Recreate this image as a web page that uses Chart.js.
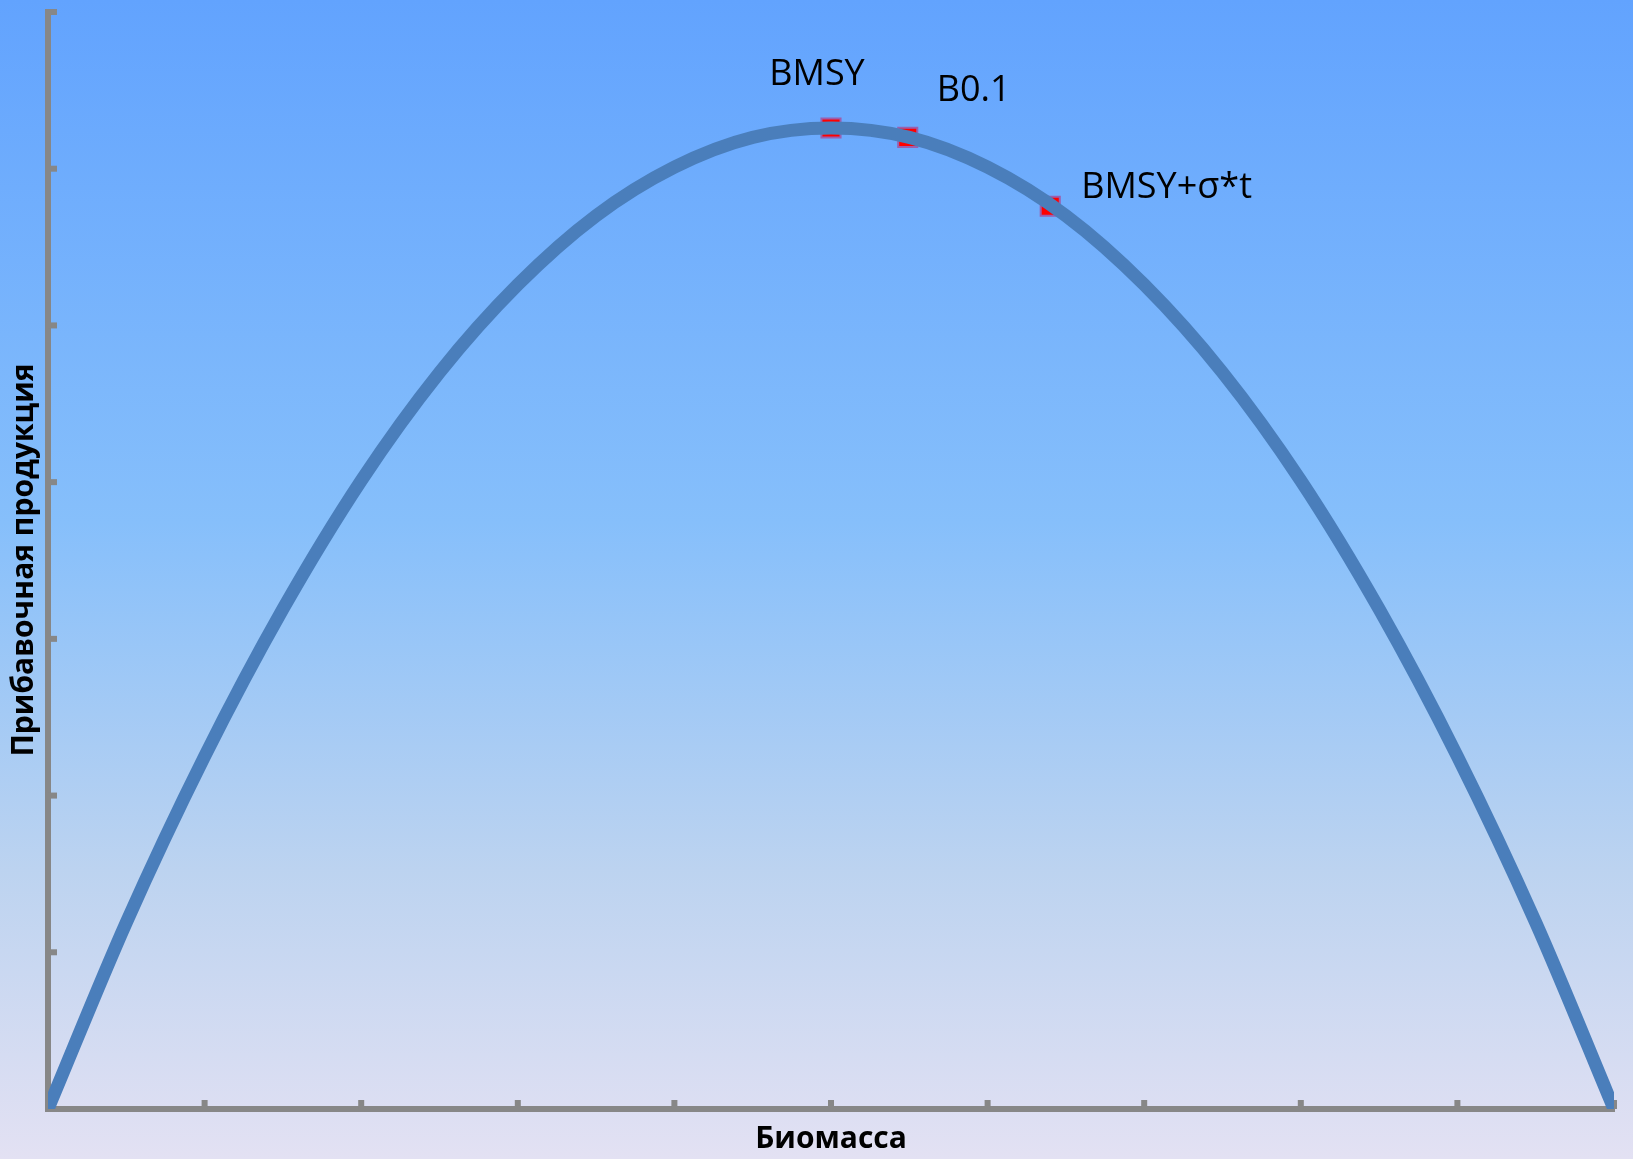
<!DOCTYPE html>
<html lang="ru">
<head>
<meta charset="utf-8">
<title>Прибавочная продукция</title>
<script src="https://cdn.jsdelivr.net/npm/chart.js@4/dist/chart.umd.min.js"></script>
<style>
  html, body { margin: 0; padding: 0; background: #e2e1f3; }
  #wrap { width: 1633px; height: 1159px; position: relative; }
</style>
</head>
<body>
<div id="wrap"><canvas id="yield-chart"></canvas></div>
<script>
// surplus production curve, read at every half unit of biomass
const biomass = [0, 0.5, 1, 1.5, 2, 2.5, 3, 3.5, 4, 4.5, 5, 5.5, 6, 6.5, 7, 7.5, 8, 8.5, 9, 9.5, 10];
const production = [0, 1.19, 2.25, 3.19, 4.01, 4.70, 5.26, 5.70, 6.01, 6.20, 6.26, 6.20, 6.01, 5.70, 5.26, 4.70, 4.01, 3.19, 2.25, 1.19, 0];

// reference points on the curve
const refNames = ['BMSY', 'B0.1', 'BMSY+σ*t'];
const refBiomass = [5.0, 5.49, 6.40];
const refProduction = [6.26, 6.20, 5.76];

const xTitle = 'Биомасса';
const yTitle = 'Прибавочная продукция';

const axisGrey = '#878787';

// gradient backdrop over the whole canvas
const backdrop = {
  id: 'backdrop',
  beforeDraw(chart) {
    const { ctx, width, height } = chart;
    const g = ctx.createLinearGradient(0, 0, 0, height);
    g.addColorStop(0, '#62a3fe');
    g.addColorStop(0.45, '#86bffb');
    g.addColorStop(0.75, '#bcd3f0');
    g.addColorStop(1, '#e3e1f3');
    ctx.save();
    ctx.fillStyle = g;
    ctx.fillRect(0, 0, width, height);
    ctx.restore();
  }
};

// tick marks pointing into the plot area
const innerTicks = {
  id: 'innerTicks',
  beforeDatasetsDraw(chart) {
    const { ctx, scales: { x, y }, chartArea } = chart;
    ctx.save();
    ctx.fillStyle = axisGrey;
    x.ticks.forEach(t => {
      if (t.value === 0) return;
      const px = x.getPixelForValue(t.value);
      ctx.fillRect(px - 3, chartArea.bottom - 9, 6, 9);
    });
    y.ticks.forEach(t => {
      if (t.value === 0) return;
      const py = y.getPixelForValue(t.value);
      ctx.fillRect(chartArea.left, py - 3, 9, 6);
    });
    ctx.restore();
  }
};

// names next to the reference points and the two axis titles
const captions = {
  id: 'captions',
  afterDraw(chart, args, opts) {
    const { ctx, scales: { x, y }, chartArea } = chart;
    ctx.save();
    ctx.fillStyle = '#000';
    ctx.textBaseline = 'alphabetic';
    ctx.font = '36px "Open Sans", sans-serif';
    refNames.forEach((name, i) => {
      const px = x.getPixelForValue(refBiomass[i]);
      const py = y.getPixelForValue(refProduction[i]);
      const o = opts.offsets[i];
      ctx.textAlign = o.align;
      ctx.fillText(name, px + o.dx, py + o.dy);
    });

    ctx.font = 'bold 30px "Open Sans", sans-serif';
    ctx.textAlign = 'center';
    ctx.fillText(xTitle, (chartArea.left + chartArea.right) / 2, chartArea.bottom + 39);

    ctx.translate(24, 560);
    ctx.rotate(-Math.PI / 2);
    ctx.textBaseline = 'middle';
    ctx.fillText(yTitle, 0, 0);
    ctx.restore();
  }
};

const ctx = document.getElementById('yield-chart').getContext('2d');

new Chart(ctx, {
  type: 'line',
  data: {
    datasets: [
      {
        label: 'Прибавочная продукция',
        data: biomass.map((b, i) => ({ x: b, y: production[i] })),
        borderColor: '#4a7ebb',
        borderWidth: 13,
        pointRadius: 0,
        cubicInterpolationMode: 'monotone',
        fill: false,
        order: 1
      },
      {
        label: 'Ориентиры',
        data: refBiomass.map((b, i) => ({ x: b, y: refProduction[i] })),
        showLine: false,
        pointStyle: 'rect',
        pointRadius: 13.5,
        backgroundColor: '#ff0000',
        borderColor: '#9a5fae',
        borderWidth: 2,
        order: 2
      }
    ]
  },
  options: {
    responsive: true,
    maintainAspectRatio: false,
    animation: false,
    layout: {
      autoPadding: false,
      padding: { left: 48, right: 19, top: 12, bottom: 50 }
    },
    plugins: {
      legend: { display: false },
      tooltip: { enabled: false },
      captions: {
        offsets: [
          { dx: -14, dy: -43, align: 'center' },
          { dx: 29, dy: -36, align: 'left' },
          { dx: 31, dy: -8, align: 'left' }
        ]
      }
    },
    scales: {
      x: {
        type: 'linear',
        min: 0,
        max: 10,
        ticks: { display: false, stepSize: 1 },
        grid: { drawOnChartArea: false, drawTicks: false },
        border: { display: true, color: axisGrey, width: 6 }
      },
      y: {
        type: 'linear',
        min: 0,
        max: 7,
        ticks: { display: false, stepSize: 1 },
        grid: { drawOnChartArea: false, drawTicks: false },
        border: { display: true, color: axisGrey, width: 6 }
      }
    }
  },
  plugins: [backdrop, innerTicks, captions]
});
</script>
</body>
</html>
